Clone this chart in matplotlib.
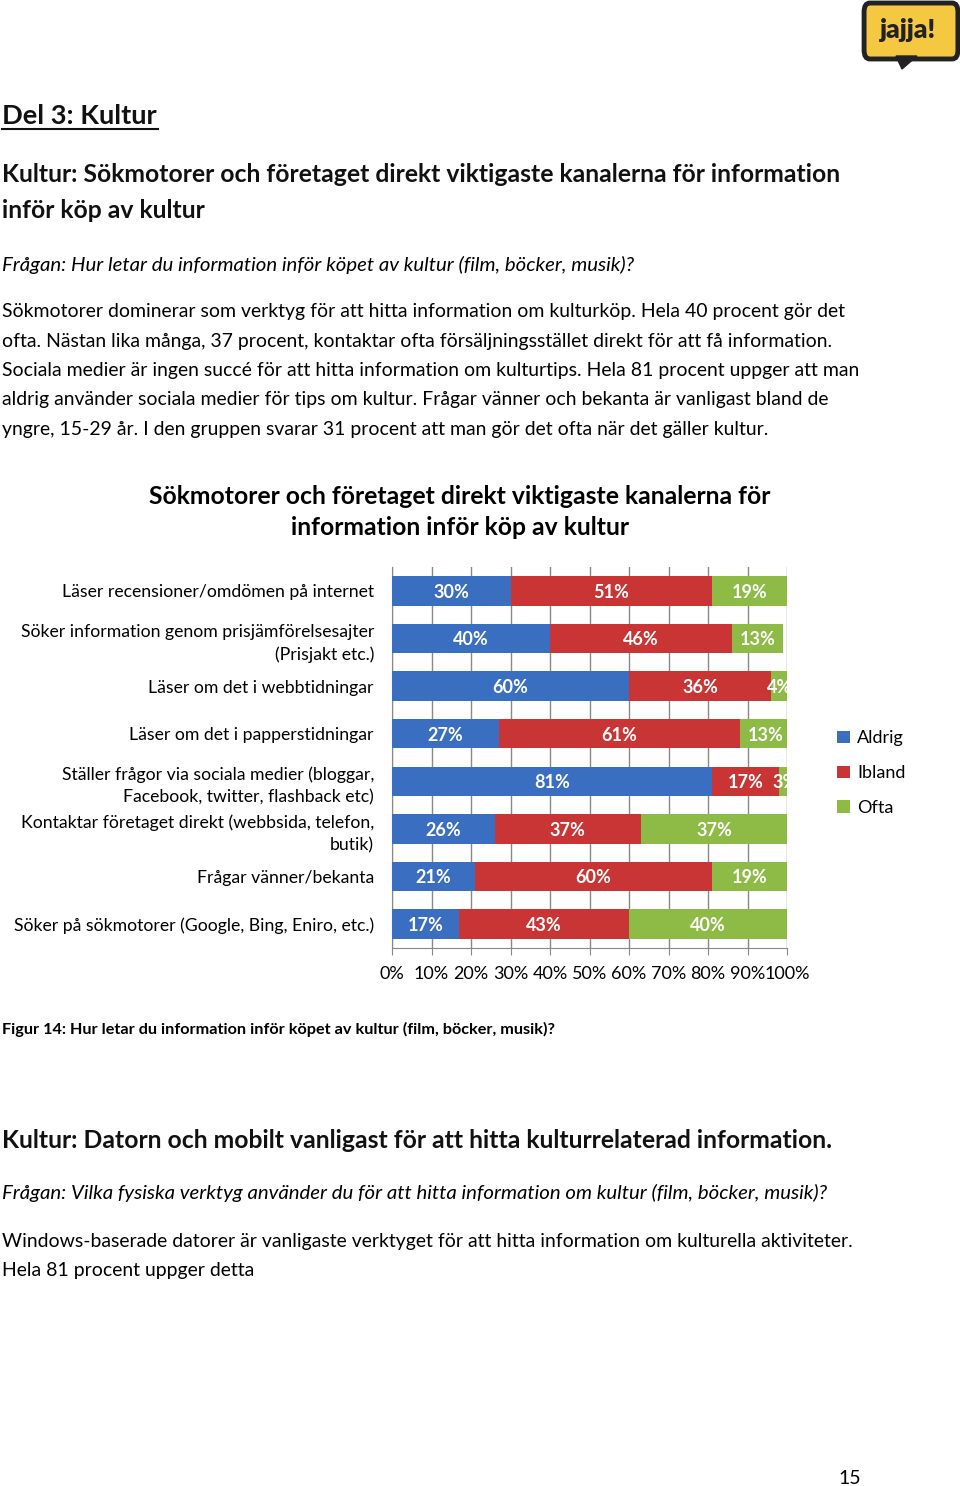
import numpy as np
import matplotlib
matplotlib.use("Agg")
import matplotlib.pyplot as plt
from matplotlib.patches import FancyBboxPatch, Polygon
from matplotlib.lines import Line2D

plt.rcParams['font.family'] = ['Lato', 'DejaVu Sans']

# --- data ---
categories = [
    "Läser recensioner/omdömen på internet",
    "Söker information genom prisjämförelsesajter\n(Prisjakt etc.)",
    "Läser om det i webbtidningar",
    "Läser om det i papperstidningar",
    "Ställer frågor via sociala medier (bloggar,\nFacebook, twitter, flashback etc)",
    "Kontaktar företaget direkt (webbsida, telefon,\nbutik)",
    "Frågar vänner/bekanta",
    "Söker på sökmotorer (Google, Bing, Eniro, etc.)",
]
aldrig = [30, 40, 60, 27, 81, 26, 21, 17]
ibland = [51, 46, 36, 61, 17, 37, 60, 43]
ofta = [19, 13, 4, 13, 3, 37, 19, 40]
series_names = ["Aldrig", "Ibland", "Ofta"]
colors = ["#3A6EC0", "#C93535", "#8DBB45"]

chart_title = "Sökmotorer och företaget direkt viktigaste kanalerna för\ninformation inför köp av kultur"

body1 = [
    "Sökmotorer dominerar som verktyg för att hitta information om kulturköp. Hela 40 procent gör det",
    "ofta. Nästan lika många, 37 procent, kontaktar ofta försäljningsstället direkt för att få information.",
    "Sociala medier är ingen succé för att hitta information om kulturtips. Hela 81 procent uppger att man",
    "aldrig använder sociala medier för tips om kultur. Frågar vänner och bekanta är vanligast bland de",
    "yngre, 15-29 år. I den gruppen svarar 31 procent att man gör det ofta när det gäller kultur.",
]
body2 = [
    "Windows-baserade datorer är vanligaste verktyget för att hitta information om kulturella aktiviteter.",
    "Hela 81 procent uppger detta",
]

W, H = 960, 1486
fig = plt.figure(figsize=(W / 100, H / 100), dpi=100)
fig.patch.set_facecolor("white")


def fx(x):
    return x / W


def fy(y):
    return 1 - y / H


def txt(x, y, s, size=14, **kw):
    kw.setdefault("va", "center")
    kw.setdefault("ha", "left")
    kw.setdefault("color", "black")
    return fig.text(fx(x), fy(y), s, fontsize=size, **kw)


# logo
logo = FancyBboxPatch((fx(866), fy(56)), fx(90), fy(6) - fy(56),
                      boxstyle="round,pad=0.002,rounding_size=0.006",
                      transform=fig.transFigure, facecolor="#F5C842",
                      edgecolor="#222222", linewidth=3.5)
fig.add_artist(logo)
fig.add_artist(Polygon([(fx(896), fy(56)), (fx(917), fy(56)), (fx(902), fy(69))],
                       closed=True, transform=fig.transFigure,
                       facecolor="#222222", edgecolor="#222222"))
txt(908, 30, "jajja!", size=19, ha="center", fontweight="heavy", color="#222222")

# headings and text
txt(2, 116, "Del 3: Kultur", size=19.6, fontweight="bold", color="#111111")
fig.add_artist(Line2D([fx(2), fx(158)], [fy(129), fy(129)], color="#111111",
                      linewidth=1.5, transform=fig.transFigure))
txt(2, 174, "Kultur: Sökmotorer och företaget direkt viktigaste kanalerna för information", size=17.85,
    fontweight="bold", color="#111111")
txt(2, 211, "inför köp av kultur", size=17.85, fontweight="bold", color="#111111")
txt(2, 265, "Frågan: Hur letar du information inför köpet av kultur (film, böcker, musik)?", size=14.7,
    style="italic")
for i, line in enumerate(body1):
    txt(2, 312 + i * 29.3, line, size=13.95)

txt(460, 512, chart_title, size=17.8, ha="center", fontweight="bold", linespacing=1.45)

# chart
ax = fig.add_axes([fx(392), fy(948), fx(787) - fx(392), fy(567) - fy(948)])
y = np.arange(len(categories))
left = np.zeros(len(categories))
for vals, name, col in zip([aldrig, ibland, ofta], series_names, colors):
    v = np.array(vals, dtype=float)
    ax.barh(y, v, left=left, height=0.62, color=col, label=name, zorder=3)
    for yi, (l, w) in enumerate(zip(left, v)):
        ax.text(l + w / 2, yi + 0.03, f"{int(w)}%", ha="center", va="center", color="white",
                fontsize=13, fontweight="bold", zorder=4, clip_on=True)
    left += v

ax.set_xlim(0, 100)
ax.set_ylim(len(categories) - 0.5, -0.5)
ax.set_xticks(np.arange(0, 101, 10))
ax.set_xticklabels([f"{v}%" for v in range(0, 101, 10)], fontsize=13)
ax.set_yticks(y)
ax.set_yticklabels(categories, fontsize=12.7, linespacing=1.5)
ax.tick_params(axis="y", length=0, pad=13)
ax.tick_params(axis="x", length=5, color="#888888", pad=8)
ax.grid(axis="x", color="#888888", linewidth=1, zorder=0)
for s in ["top", "right"]:
    ax.spines[s].set_visible(False)
for s in ["left", "bottom"]:
    ax.spines[s].set_color("#888888")

handles, labels = ax.get_legend_handles_labels()
fig.legend(handles, labels, loc="upper left", bbox_to_anchor=(fx(830), fy(723)),
           frameon=False, fontsize=13, handlelength=0.7, handleheight=0.7,
           labelspacing=1.05, handletextpad=0.4, borderaxespad=0)

# after chart
txt(2, 1029, "Figur 14: Hur letar du information inför köpet av kultur (film, böcker, musik)?", size=11.7,
    fontweight="bold")
txt(2, 1140, "Kultur: Datorn och mobilt vanligast för att hitta kulturrelaterad information.", size=17.85,
    fontweight="bold", color="#111111")
txt(2, 1193, "Frågan: Vilka fysiska verktyg använder du för att hitta information om kultur (film, böcker, musik)?",
    size=14.65, style="italic")
for i, line in enumerate(body2):
    txt(2, 1241 + i * 29.3, line, size=13.95)

txt(850, 1478, "15", size=14, ha="center")

fig.savefig("out.png", dpi=100)
